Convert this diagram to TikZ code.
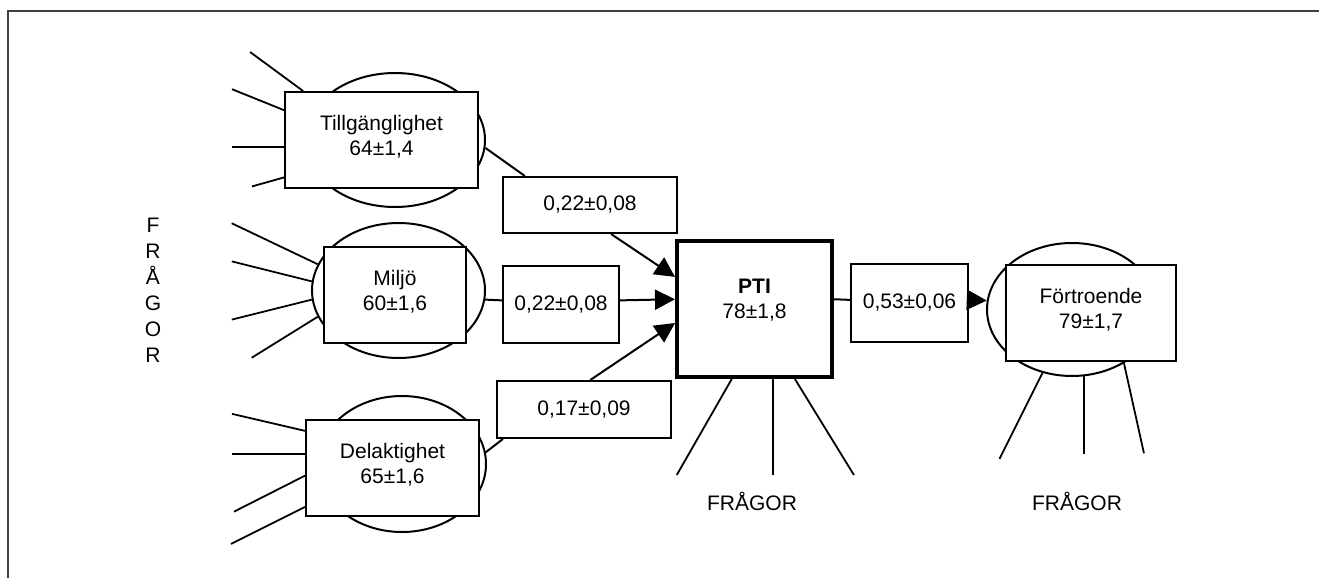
\documentclass[tikz,border=0pt]{standalone}
\usepackage{fontspec}
\setmainfont{Liberation Sans}
\usetikzlibrary{arrows.meta,shapes.geometric}

\begin{document}
\begin{tikzpicture}[
  x=1pt, y=-1pt,
  latent/.style={draw, ellipse, line width=2pt, inner sep=0pt},
  factor/.style={draw, line width=2pt, fill=white, align=center, inner sep=0pt,
                 text depth=10pt, font=\fontsize{21}{25}\selectfont},
  coef/.style={draw, line width=2pt, fill=white, inner sep=0pt,
               font=\fontsize{21}{25}\selectfont},
  link/.style={line width=2pt},
  arrow/.style={line width=2pt, -{Triangle[length=20pt,width=20pt]}},
  ray/.style={line width=1.8pt},
  qlabel/.style={font=\fontsize{21}{26}\selectfont, align=center}
]
\useasboundingbox (0,0) rectangle (1319,578);

% Frame
\draw[black!75, line width=2pt] (8,578) -- (8,11) -- (1319,11);

% Ellipses behind the factors
\node[latent, minimum width=180pt, minimum height=134pt] (tillE) at (395,140) {};
\node[latent, minimum width=173pt, minimum height=135pt] (milE) at (398.5,290.5) {};
\node[latent, minimum width=168pt, minimum height=136pt] (delE) at (402,464) {};
\node[latent, minimum width=170pt, minimum height=133pt] (forE) at (1072,309.5) {};

% Factors
\node[factor, minimum width=193pt, minimum height=96pt] (till) at (381.5,140)
  {Tillgänglighet\\64±1,4};
\node[factor, minimum width=142pt, minimum height=96pt] (mil) at (395,295)
  {Miljö\\60±1,6};
\node[factor, minimum width=173pt, minimum height=96pt] (del) at (392.5,468)
  {Delaktighet\\65±1,6};
\node[factor, line width=4pt, text depth=20pt, minimum width=155pt, minimum height=136pt] (pti) at (754.5,309)
  {\textbf{PTI}\\78±1,8};
\node[factor, minimum width=170pt, minimum height=96pt] (for) at (1091,313)
  {Förtroende\\79±1,7};

% Path coefficients
\node[coef, minimum width=174pt, minimum height=56pt] (c1) at (590,205) {0,22±0,08};
\node[coef, minimum width=116pt, minimum height=77pt] (c2) at (561,304.5) {0,22±0,08};
\node[coef, minimum width=174pt, minimum height=57pt] (c3) at (584,409.5) {0,17±0,09};
\node[coef, minimum width=117pt, minimum height=78pt] (c4) at (909.5,303) {0,53±0,06};

% Paths
\draw[link] (tillE.-5) -- (c1.156);
\draw[arrow] (c1.-54) -- (pti.158);
\draw[link] (milE.-6) -- (c2.176);
\draw[arrow] (c2.4) -- (pti.173);
\draw[link] (delE.8) -- (c3.200);
\draw[arrow] (c3.78) -- (pti.190);
\draw[link] (pti.7) -- (c4.177);
\draw[arrow] (c4.3) -- (forE.174);

% Questions
\foreach \a/\dx/\dy in {148/-53/-39, 163/-52/-21, 184/-52/0, 201/-32/9}
  \draw[ray] (till.\a) -- ++(\dx,\dy);
\foreach \a/\dx/\dy in {162/-86/-41, 174/-80/-20, 186/-80/20, 198/-66/41}
  \draw[ray] (milE.\a) -- ++(\dx,\dy);
\foreach \a/\dx/\dy in {157/-73/-17, 171/-73/0, 185/-71/36, 204/-74/37}
  \draw[ray] (del.\a) -- ++(\dx,\dy);
\foreach \a/\dx in {252/-55, 285/0, 300/59}
  \draw[ray] (pti.\a) -- ++(\dx,96);
\foreach \a/\dx/\dy in {245/-43/86, 280/0/78, 314/20/90}
  \draw[ray] (forE.\a) -- ++(\dx,\dy);

\node[qlabel] (q0) at (153,290) {F\\R\\Å\\G\\O\\R};
\node[qlabel] (q1) at (752,501) {FRÅGOR};
\node[qlabel] (q2) at (1077,501) {FRÅGOR};

\end{tikzpicture}
\end{document}
